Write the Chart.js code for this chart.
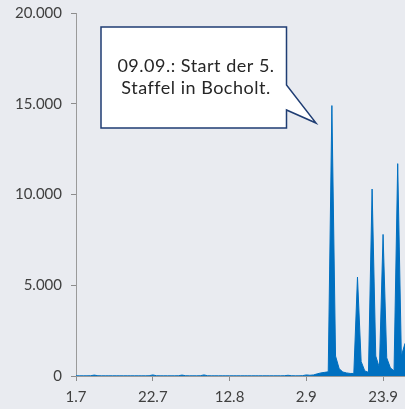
<!DOCTYPE html>
<html><head><meta charset="utf-8">
<script src="https://cdn.jsdelivr.net/npm/chart.js@4/dist/chart.umd.min.js"></script>
<style>
html,body{margin:0;padding:0;background:#e9ebf0;}
#wrap{position:relative;width:405px;height:409px;}
</style></head>
<body><div id="wrap"><canvas id="c" width="405" height="409"></canvas></div>
<script>
const categories = [
"1.7","2.7","3.7","4.7","5.7","6.7","7.7","8.7","9.7","10.7","11.7","12.7","13.7","14.7","15.7","16.7","17.7","18.7","19.7","20.7","21.7","22.7","23.7","24.7","25.7","26.7","27.7","28.7","29.7","30.7","31.7",
"1.8","2.8","3.8","4.8","5.8","6.8","7.8","8.8","9.8","10.8","11.8","12.8","13.8","14.8","15.8","16.8","17.8","18.8","19.8","20.8","21.8","22.8","23.8","24.8","25.8","26.8","27.8","28.8","29.8","30.8","31.8",
"1.9","2.9","3.9","4.9","5.9","6.9","7.9","8.9","9.9","10.9","11.9","12.9","13.9","14.9","15.9","16.9","17.9","18.9","19.9","20.9","21.9","22.9","23.9","24.9","25.9","26.9","27.9","28.9","29.9"];
const julyValues = [10,10,10,10,15,50,15,10,10,10,10,10,10,10,10,10,10,10,10,10,15,60,15,10,10,10,10,10,15,50,15];
const augustValues = [10,10,10,15,60,15,10,10,10,10,10,10,10,10,10,10,10,10,10,10,10,10,10,10,10,10,15,40,15,10,10];
const septemberValues = [20,60,40,60,120,170,200,230,14900,1100,400,220,170,140,140,5450,800,280,200,10300,1100,450,7800,1000,450,280,11700,1100,1800];
const seriesValues = julyValues.concat(augustValues, septemberValues);
const yTicks = [0,5000,10000,15000,20000];
const shownTicks = ["1.7","22.7","12.8","2.9","23.9"];
const noteLines = ["09.09.: Start der 5.","Staffel in Bocholt."];

const FONT = "Lato, 'Open Sans', sans-serif";

const callout = {
  id:'callout',
  afterDraw(chart){
    const ctx = chart.ctx;
    ctx.save();
    const l=101, t=27, r=286.5, b=128;
    ctx.beginPath();
    ctx.moveTo(l,t); ctx.lineTo(r,t); ctx.lineTo(r,85);
    ctx.lineTo(316,123); ctx.lineTo(r,110); ctx.lineTo(r,b); ctx.lineTo(l,b); ctx.closePath();
    ctx.fillStyle='#ffffff'; ctx.fill();
    ctx.lineWidth=1.5; ctx.strokeStyle='#1f3d73'; ctx.stroke();
    ctx.fillStyle='#262626';
    ctx.font = "18px " + FONT;
    ctx.letterSpacing = '0.5px';
    ctx.textAlign='center'; ctx.textBaseline='middle';
    ctx.fillText(noteLines[0],196,66);
    ctx.fillText(noteLines[1],196,88);
    ctx.restore();
  }
};

new Chart(document.getElementById('c'),{
  type:'line',
  data:{labels:categories,datasets:[{
    data:seriesValues,
    fill:'origin',
    backgroundColor:'#0070c0',
    borderColor:'#0070c0',
    borderWidth:1,
    pointRadius:0,
    tension:0
  }]},
  options:{
    responsive:false,animation:false,
    layout:{padding:{top:13,right:0,left:0,bottom:0}},
    plugins:{legend:{display:false},tooltip:{enabled:false}},
    scales:{
      x:{
        offset:false,
        grid:{display:true,drawOnChartArea:false,drawTicks:true,tickLength:5,color:'#8c8c8c'},
        border:{color:'#9a9a9a',width:1},
        ticks:{autoSkip:false,maxRotation:0,padding:7,color:'#404040',font:{family:FONT,size:15},
          callback:function(v,i){const s=categories[i];return shownTicks.includes(s)&&i%21===0?s:null;}},
        afterFit(s){s.height=33;}
      },
      y:{
        min:0,max:20000,
        afterBuildTicks(s){s.ticks=yTicks.map(v=>({value:v}));},
        grid:{display:true,drawOnChartArea:false,drawTicks:true,tickLength:5,color:'#8c8c8c'},
        border:{color:'#9a9a9a',width:1},
        ticks:{padding:9,color:'#404040',font:{family:FONT,size:15},
          callback:v=>v.toLocaleString('de-DE')},
        afterFit(s){s.width=76;s.paddingTop=0;s.paddingBottom=0;}
      }
    }
  },
  plugins:[callout]
});
</script></body></html>
